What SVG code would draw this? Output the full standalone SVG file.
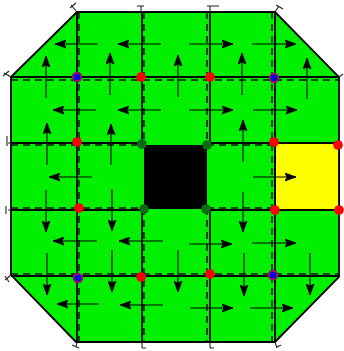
<svg xmlns="http://www.w3.org/2000/svg" width="344" height="351" viewBox="0 0 344 351">
<defs>
<marker id="ah" markerUnits="userSpaceOnUse" markerWidth="13" markerHeight="9" refX="11" refY="4.5" orient="auto"><path d="M0 .5L11 4.5L0 8.500L2 4.500Z" fill="#000" stroke="#000" stroke-width=".8"/></marker>
</defs>
<style>
.s{stroke:#000;stroke-width:1.8;fill:none}
.d{stroke:#111;stroke-width:1.5;fill:none;stroke-dasharray:7 5}
.t{stroke:#222;stroke-width:1.1;fill:none}
.a{stroke:#000;stroke-width:1.1;fill:none;marker-end:url(#ah)}
.r{fill:#f00}.g{fill:#0b6b12}.b{fill:#0000e0;stroke:#a01060;stroke-width:2}
</style>
<g id="floor"><path d="M77 12H275L339 77V277L275 342H76L11 275V77Z" fill="#00f000" stroke="#000" stroke-width="1.8"/></g>
<g id="center"><rect x="144" y="145" width="63" height="64" fill="#000"/></g>
<g id="exit"><rect x="275" y="143" width="64" height="67" fill="#ff0" stroke="#000" stroke-width="1.8"/></g>
<g id="connectors">
<path class="s" d="M11 77H339M11 143H144M207 143H339M11 210H144M207 210H339M11 276H339"/>
<path class="d" d="M11 80H339M11 145H144M207 145H275M11 208H144M207 208H275M11 274H339"/>
<path class="s" d="M77 12V342M142 12V145M142 208V342M210 12V145M210 208V342M275 12V342"/>
<path class="d" d="M79 12V342M144 12V145M144 208V342M207 12V145M207 208V342M272 12V342"/>
<path class="t" d="M71 5L77 12M70 8L76 3M4 73L11 77M3 76L9 71M141 12V6M137 6H144M210 12V6M207 6H219M275 12L279 6M276 5L283 9M339 77L343 74M8 143H11M7 136V146M8 210H11M6 206V214M11 275L5 280M5 276L9 282M77 342L76 347M72 345L79 348M142 342V348M142 348H146M210 342V348M210 348H214M275 342L277 348M277 347L281 345"/>
<path class="a" d="M98 44H55"/><path class="a" d="M161 44H118"/><path class="a" d="M189 44H233"/><path class="a" d="M252 44H296"/>
<path class="a" d="M46 98V56"/><path class="a" d="M110 95V53"/><path class="a" d="M178 97V55"/><path class="a" d="M242 95V53"/><path class="a" d="M307 99V58"/>
<path class="a" d="M96 110H53"/><path class="a" d="M161 110H118"/><path class="a" d="M189 110H233"/><path class="a" d="M253 110H297"/>
<path class="a" d="M47 165V123"/><path class="a" d="M111 165V124"/><path class="a" d="M243 162V120"/>
<path class="a" d="M92 177H49"/><path class="a" d="M253 177H296"/>
<path class="a" d="M46 190V232"/><path class="a" d="M112 189V231"/><path class="a" d="M243 192V232"/>
<path class="a" d="M97 241H53"/><path class="a" d="M163 241H119"/><path class="a" d="M189 244H232"/><path class="a" d="M252 243H296"/>
<path class="a" d="M47 253V295"/><path class="a" d="M112 250V292"/><path class="a" d="M178 250V292"/><path class="a" d="M244 253V296"/><path class="a" d="M310 253V295"/>
<path class="a" d="M99 304H57"/><path class="a" d="M163 305H120"/><path class="a" d="M190 308H233"/><path class="a" d="M250 308H293"/>
</g>
<g id="n1"><circle class="b" cx="77" cy="77" r="4.3"/></g>
<g id="n2"><circle class="r" cx="141" cy="77" r="4.8"/></g>
<g id="n3"><circle class="r" cx="210" cy="77" r="4.8"/></g>
<g id="n4"><circle class="b" cx="274" cy="78" r="4.3"/></g>
<g id="n5"><circle class="r" cx="77" cy="142" r="4.8"/></g>
<g id="n6"><circle class="g" cx="142" cy="144" r="4.8"/></g>
<g id="n7"><circle class="g" cx="207" cy="145" r="4.8"/></g>
<g id="n8"><circle class="r" cx="274" cy="142" r="4.8"/></g>
<g id="n9"><circle class="r" cx="338" cy="145" r="4.8"/></g>
<g id="n10"><circle class="r" cx="79" cy="208" r="4.8"/></g>
<g id="n11"><circle class="g" cx="144" cy="209" r="4.8"/></g>
<g id="n12"><circle class="g" cx="206" cy="209" r="4.8"/></g>
<g id="n13"><circle class="r" cx="275" cy="210" r="4.8"/></g>
<g id="n14"><circle class="r" cx="339" cy="210" r="4.8"/></g>
<g id="n15"><circle class="b" cx="78" cy="278" r="4.3"/></g>
<g id="n16"><circle class="r" cx="141" cy="277" r="4.8"/></g>
<g id="n17"><circle class="r" cx="210" cy="274" r="4.8"/></g>
<g id="n18"><circle class="b" cx="273" cy="275" r="4.3"/></g>
</svg>
